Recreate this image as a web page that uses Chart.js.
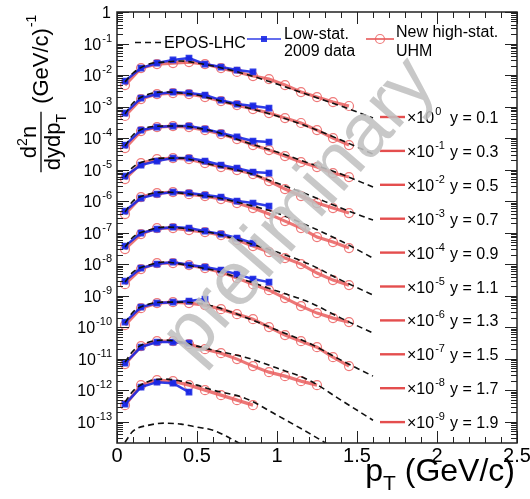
<!DOCTYPE html>
<html>
<head>
<meta charset="utf-8">
<title>Identified spectra vs EPOS-LHC</title>
<style>
  html, body { margin: 0; padding: 0; background: #fff; }
  canvas { display: block; }
</style>
<script src="https://cdn.jsdelivr.net/npm/chart.js@4.4.1/dist/chart.umd.min.js"></script>
</head>
<body>
<canvas id="spectra" width="530" height="499"></canvas>
<script>
// pT grids (GeV/c)
const ptEpos = [0.05, 0.1, 0.2, 0.3, 0.4, 0.5, 0.6, 0.8, 1.0, 1.2, 1.4, 1.6];
const ptHigh = [0.05, 0.15, 0.25, 0.35, 0.45, 0.55, 0.65, 0.75, 0.85, 0.95, 1.05, 1.15, 1.25, 1.35, 1.45];
const ptLow = [0.05, 0.15, 0.25, 0.35, 0.45, 0.55, 0.65, 0.75, 0.85, 0.95];

// rapidity bins and the factor each one is multiplied by
const rapidities = ['0.1', '0.3', '0.5', '0.7', '0.9', '1.1', '1.3', '1.5', '1.7', '1.9'];
const scaleExponents = [0, -1, -2, -3, -4, -5, -6, -7, -8, -9];

// EPOS-LHC, unscaled d2n/dydpT
const epos01 = [6.0e-3, 1.16e-2, 2.23e-2, 2.58e-2, 2.78e-2, 2.40e-2, 1.93e-2, 1.08e-2, 5.18e-3, 2.31e-3, 1.04e-3, 4.31e-4];
const epos03 = [5.78e-3, 1.29e-2, 2.49e-2, 2.88e-2, 2.68e-2, 2.31e-2, 1.73e-2, 9.6e-3, 5.0e-3, 2.23e-3, 8.64e-4, 3.1e-4];
const epos05 = [5.57e-3, 1.25e-2, 2.23e-2, 2.40e-2, 2.40e-2, 2.07e-2, 1.66e-2, 7.46e-3, 3.59e-3, 1.60e-3, 7.2e-4, 2.78e-4];
const epos07 = [5.78e-3, 1.20e-2, 2.00e-2, 2.31e-2, 2.31e-2, 1.86e-2, 1.39e-2, 8.33e-3, 3.72e-3, 1.55e-3, 5.99e-4, 2.49e-4];
const epos09 = [4.47e-3, 1.0e-2, 1.66e-2, 1.93e-2, 1.79e-2, 1.55e-2, 1.34e-2, 8.03e-3, 4.16e-3, 1.60e-3, 5.37e-4, 1.55e-4];
const epos11 = [3.46e-3, 7.2e-3, 1.2e-2, 1.49e-2, 1.39e-2, 1.11e-2, 9.64e-3, 5.0e-3, 2.40e-3, 1.0e-3, 3.1e-4, 1.04e-4];
const epos13 = [2.68e-3, 5.57e-3, 9.29e-3, 1.16e-2, 1.0e-2, 8.03e-3, 6.45e-3, 3.10e-3, 1.39e-3, 6.2e-4, 1.93e-4, 6.45e-5];
const epos15 = [1.34e-3, 3.0e-3, 5.37e-3, 6.2e-3, 6.2e-3, 5.78e-3, 4.64e-3, 2.07e-3, 8.03e-4, 3.10e-4, 8.96e-5, 2.78e-5];
const epos17 = [7.74e-4, 1.73e-3, 3.34e-3, 3.86e-3, 3.34e-3, 2.49e-3, 1.86e-3, 1.11e-3, 5.0e-4, 2.07e-4, 4.81e-5, 1.11e-5];
const epos19 = [4.16e-4, 9.29e-4, 1.93e-3, 2.23e-3, 1.93e-3, 1.44e-3, 1.0e-3, 5.57e-4, 1.60e-4, 4.31e-5, 1.08e-5, 2.9e-6];
// forward bin with no data, drawn at x1e-10
const epos21 = [2.23e-4, 5.0e-4, 7.74e-4, 8.96e-4, 8.33e-4, 6.7e-4, 5.37e-4, 1.66e-4, 5.2e-5];

// new high-statistics UHM data
const uhm01 = [4.81e-3, 1.66e-2, 2.23e-2, 2.40e-2, 2.58e-2, 2.23e-2, 1.66e-2, 1.25e-2, 9.29e-3, 7.46e-3, 4.81e-3, 2.88e-3, 2.00e-3, 1.39e-3, 1.04e-3];
const uhm03 = [5.0e-3, 1.73e-2, 2.49e-2, 2.68e-2, 2.49e-2, 2.00e-2, 1.49e-2, 1.11e-2, 8.33e-3, 6.2e-3, 4.31e-3, 3.0e-3, 1.79e-3, 1.0e-3, 5.99e-4];
const uhm05 = [4.81e-3, 1.66e-2, 2.23e-2, 2.40e-2, 2.23e-2, 1.79e-2, 1.34e-2, 9.29e-3, 5.99e-3, 4.16e-3, 2.68e-3, 1.73e-3, 1.20e-3, 7.74e-4, 5.78e-4];
const uhm07 = [5.0e-3, 1.60e-2, 2.15e-2, 2.31e-2, 2.15e-2, 1.60e-2, 1.20e-2, 9.64e-3, 7.2e-3, 4.31e-3, 2.40e-3, 1.44e-3, 8.64e-4, 5.99e-4, 4.16e-4];
const uhm09 = [3.86e-3, 1.34e-2, 1.79e-2, 1.93e-2, 1.66e-2, 1.44e-2, 1.16e-2, 8.64e-3, 5.99e-3, 3.86e-3, 2.31e-3, 1.39e-3, 7.2e-4, 5.0e-4, 3.22e-4];
const uhm11 = [3.0e-3, 8.96e-3, 1.39e-2, 1.39e-2, 1.20e-2, 1.04e-2, 8.33e-3, 5.78e-3, 3.72e-3, 2.40e-3, 1.55e-3, 1.0e-3, 5.18e-4, 3.10e-4, 2.15e-4];
const uhm13 = [2.31e-3, 6.94e-3, 1.08e-2, 1.08e-2, 9.29e-3, 7.46e-3, 5.57e-3, 3.59e-3, 2.31e-3, 1.49e-3, 8.33e-4, 4.64e-4, 2.78e-4, 1.93e-4, 1.44e-4];
const uhm15 = [1.16e-3, 4.0e-3, 5.78e-3, 6.2e-3, 5.78e-3, 5.0e-3, 3.72e-3, 2.58e-3, 1.79e-3, 1.0e-3, 5.57e-4, 3.59e-4, 2.31e-4, 1.11e-4, 5.78e-5];
const uhm17 = [6.7e-4, 2.49e-3, 3.59e-3, 3.59e-3, 2.88e-3, 2.00e-3, 1.49e-3, 9.64e-4, 5.78e-4, 3.72e-4, 2.78e-4, 1.93e-4, 1.44e-4];
const uhm19 = [3.34e-4, 1.44e-3, 2.07e-3, 1.93e-3, 1.44e-3, 1.0e-3, 6.94e-4, 4.81e-4, 3.34e-4];

// low-statistics 2009 data
const low01 = [6.45e-3, 1.66e-2, 2.40e-2, 3.0e-2, 3.46e-2, 2.23e-2, 1.79e-2, 1.44e-2, 1.25e-2];
const low03 = [6.2e-3, 1.86e-2, 2.49e-2, 2.88e-2, 2.68e-2, 2.31e-2, 1.60e-2, 1.20e-2, 1.04e-2, 8.96e-3];
const low05 = [5.99e-3, 1.79e-2, 2.23e-2, 2.40e-2, 2.40e-2, 1.93e-2, 1.44e-2, 1.08e-2, 8.03e-3, 7.46e-3];
const low07 = [6.2e-3, 1.39e-2, 1.86e-2, 2.31e-2, 2.31e-2, 1.86e-2, 1.39e-2, 1.11e-2, 8.33e-3, 7.74e-3];
const low09 = [4.81e-3, 1.25e-2, 1.66e-2, 1.93e-2, 1.79e-2, 1.55e-2, 1.34e-2, 1.0e-2, 8.64e-3, 6.94e-3];
const low11 = [3.72e-3, 9.64e-3, 1.29e-2, 1.49e-2, 1.39e-2, 1.11e-2, 8.96e-3, 6.7e-3, 4.64e-3];
const low13 = [2.88e-3, 7.46e-3, 1.0e-2, 1.16e-2, 9.29e-3, 8.03e-3, 6.45e-3, 4.81e-3, 3.34e-3, 2.68e-3];
const low15 = [1.44e-3, 4.31e-3, 5.78e-3, 6.2e-3, 6.7e-3, 7.74e-3];
const low17 = [7.2e-4, 2.31e-3, 3.34e-3, 3.34e-3, 3.10e-3];
const low19 = [3.59e-4, 1.25e-3, 1.79e-3, 1.66e-3, 8.64e-4];

// axis labels
const xTickLabels = ['0', '0.5', '1', '1.5', '2', '2.5'];
const yTickExponents = [0, -1, -2, -3, -4, -5, -6, -7, -8, -9, -10, -11, -12, -13];

const eposSets = [epos01, epos03, epos05, epos07, epos09, epos11, epos13, epos15, epos17, epos19];
const uhmSets = [uhm01, uhm03, uhm05, uhm07, uhm09, uhm11, uhm13, uhm15, uhm17, uhm19];
const lowSets = [low01, low03, low05, low07, low09, low11, low13, low15, low17, low19];

const FONT = '"Liberation Sans", Arial, Helvetica, sans-serif';
const RED = 'rgba(230, 72, 72, 0.75)';
const RED_MARK = 'rgba(236, 96, 96, 0.85)';
const RED_KEY = 'rgb(228, 78, 78)';
const BLUE = 'rgba(25, 40, 228, 0.9)';

const toPoints = (xs, ys, exp) => ys.map((v, i) => ({ x: xs[i], y: v * Math.pow(10, exp) }));

const datasets = [];
eposSets.forEach((ys, i) => {
    datasets.push({
        label: 'EPOS-LHC y=' + rapidities[i],
        data: toPoints(ptEpos, ys, scaleExponents[i]),
        borderColor: '#111',
        borderWidth: 1.6,
        borderDash: [6, 4],
        pointRadius: 0,
        cubicInterpolationMode: 'monotone',
        clip: 0,
        order: 1,
    });
    datasets.push({
        label: 'Low-stat. y=' + rapidities[i],
        data: toPoints(ptLow, lowSets[i], scaleExponents[i]),
        borderColor: BLUE,
        borderWidth: 2.5,
        pointStyle: 'rect',
        pointRadius: 3,
        pointBackgroundColor: BLUE,
        pointBorderColor: BLUE,
        tension: 0,
        clip: 0,
        order: 2,
    });
    datasets.push({
        label: 'UHM y=' + rapidities[i],
        data: toPoints(ptHigh, uhmSets[i], scaleExponents[i]),
        borderColor: RED,
        borderWidth: 3.2,
        pointStyle: 'circle',
        pointRadius: 4.5,
        pointBorderWidth: 1.2,
        pointBackgroundColor: 'rgba(0,0,0,0)',
        pointBorderColor: RED_MARK,
        tension: 0,
        clip: 0,
        order: 3,
    });
});
datasets.push({
    label: 'EPOS-LHC forward',
    data: toPoints(ptEpos, epos21, -10),
    borderColor: '#111',
    borderWidth: 1.6,
    borderDash: [6, 4],
    pointRadius: 0,
    cubicInterpolationMode: 'monotone',
    clip: 0,
    order: 1,
});

function drawSuper(ctx, base, sup, xRight, yBase, size, supSize) {
    // right-aligned "base^sup"
    ctx.font = supSize + 'px ' + FONT;
    const ws = ctx.measureText(sup).width;
    ctx.font = size + 'px ' + FONT;
    const wb = ctx.measureText(base).width;
    ctx.textAlign = 'left';
    ctx.fillText(base, xRight - ws - wb - 1, yBase);
    ctx.font = supSize + 'px ' + FONT;
    ctx.fillText(sup, xRight - ws, yBase - size * 0.5);
}

// ROOT-like frame, ticks, labels and legends
const frameAndText = {
    id: 'frameAndText',
    afterDatasetsDraw(chart) {
        const { ctx, chartArea: a, scales: { x, y } } = chart;
        ctx.save();
        ctx.strokeStyle = '#222';
        ctx.fillStyle = '#000';
        ctx.lineWidth = 1;

        const seg = (x1, y1, x2, y2) => {
            ctx.beginPath();
            ctx.moveTo(x1, y1);
            ctx.lineTo(x2, y2);
            ctx.stroke();
        };

        // x ticks every 0.1, major every 0.5
        for (let i = 0; i <= 25; i++) {
            const px = Math.round(x.getPixelForValue(i / 10)) + 0.5;
            const len = i % 5 === 0 ? 12 : 6;
            seg(px, a.bottom, px, a.bottom - len);
            seg(px, a.top, px, a.top + len);
        }
        // y ticks at 1..9 x 10^d
        for (let d = -14; d <= 0; d++) {
            for (let m = 1; m <= 9; m++) {
                const v = m * Math.pow(10, d);
                if (v < y.min || v > y.max) continue;
                const py = Math.round(y.getPixelForValue(v)) + 0.5;
                const len = m === 1 ? 12 : 6;
                seg(a.left, py, a.left + len, py);
                seg(a.right, py, a.right - len, py);
            }
        }
        ctx.lineWidth = 1.5;
        ctx.strokeRect(a.left, a.top, a.right - a.left, a.bottom - a.top);

        // y tick labels
        yTickExponents.forEach((e) => {
            const py = y.getPixelForValue(Math.pow(10, e));
            if (e === 0) {
                ctx.font = '16px ' + FONT;
                ctx.textAlign = 'right';
                ctx.fillText('1', a.left - 6, py + 6);
            } else {
                drawSuper(ctx, '10', String(e), a.left - 5, py + 6, 16, 11);
            }
        });

        // x tick labels
        ctx.font = '20px ' + FONT;
        ctx.textAlign = 'center';
        xTickLabels.forEach((t) => {
            ctx.fillText(t, x.getPixelForValue(parseFloat(t)), a.bottom + 19);
        });

        // x title: pT (GeV/c)
        const big = 32, sub = 21;
        ctx.font = big + 'px ' + FONT;
        const wUnit = ctx.measureText(' (GeV/c)').width;
        const wp = ctx.measureText('p').width;
        ctx.font = sub + 'px ' + FONT;
        const wT = ctx.measureText('T').width;
        const xEnd = a.right - 2;
        const xStart = xEnd - wUnit - wT - wp;
        const base = 481;
        ctx.textAlign = 'left';
        ctx.font = big + 'px ' + FONT;
        ctx.fillText('p', xStart, base);
        ctx.fillText(' (GeV/c)', xStart + wp + wT, base);
        ctx.font = sub + 'px ' + FONT;
        ctx.fillText('T', xStart + wp, base + 9);

        // y title: d2n / dydpT (GeV/c)^-1, rotated
        ctx.save();
        ctx.translate(41, 142);
        ctx.rotate(-Math.PI / 2);
        const f = 22, fs = 14;
        ctx.font = f + 'px ' + FONT;
        const wd = ctx.measureText('d').width;
        const wn = ctx.measureText('n').width;
        ctx.font = fs + 'px ' + FONT;
        const w2 = ctx.measureText('2').width;
        const numW = wd + w2 + wn;
        let u = -numW / 2;
        ctx.textAlign = 'left';
        ctx.font = f + 'px ' + FONT;
        ctx.fillText('d', u, -5);
        ctx.font = fs + 'px ' + FONT;
        ctx.fillText('2', u + wd, -14);
        ctx.font = f + 'px ' + FONT;
        ctx.fillText('n', u + wd + w2, -5);
        const wdydp = ctx.measureText('dydp').width;
        ctx.font = fs + 'px ' + FONT;
        const wTs = ctx.measureText('T').width;
        const denW = wdydp + wTs;
        u = -denW / 2;
        ctx.font = f + 'px ' + FONT;
        ctx.fillText('dydp', u, 19);
        ctx.font = fs + 'px ' + FONT;
        ctx.fillText('T', u + wdydp, 25);
        ctx.lineWidth = 1.3;
        ctx.strokeStyle = '#000';
        const barHalf = Math.max(numW, denW) / 2 + 2;
        seg(-barHalf, 0, barHalf, 0);
        ctx.font = f + 'px ' + FONT;
        ctx.fillText('(GeV/c)', barHalf + 8, 7);
        const wg = ctx.measureText('(GeV/c)').width;
        ctx.font = fs + 'px ' + FONT;
        ctx.fillText('-1', barHalf + 8 + wg + 1, -5);
        ctx.restore();

        // top legend
        ctx.lineWidth = 1.6;
        ctx.strokeStyle = '#111';
        ctx.setLineDash([6, 4]);
        seg(135, 42.5, 161, 42.5);
        ctx.setLineDash([]);
        ctx.font = '16px ' + FONT;
        ctx.textAlign = 'left';
        ctx.fillText('EPOS-LHC', 164, 48);

        ctx.strokeStyle = BLUE;
        ctx.lineWidth = 1.5;
        seg(247, 39, 281, 39);
        ctx.fillStyle = BLUE;
        ctx.fillRect(261, 36, 6, 6);
        ctx.fillStyle = '#000';
        ctx.fillText('Low-stat.', 284, 39);
        ctx.fillText('2009 data', 284, 56);

        ctx.strokeStyle = RED_KEY;
        seg(366, 39, 394, 39);
        ctx.strokeStyle = RED_MARK;
        ctx.lineWidth = 1.2;
        ctx.beginPath();
        ctx.arc(380, 39, 4.5, 0, Math.PI * 2);
        ctx.stroke();
        ctx.fillText('New high-stat.', 396, 37);
        ctx.fillText('UHM', 396, 56);

        // scale factor / rapidity key on the right
        rapidities.forEach((r, i) => {
            const row = 117 + i * 33.9;
            ctx.strokeStyle = RED_KEY;
            ctx.lineWidth = 2.4;
            seg(380, row, 405, row);
            ctx.fillStyle = '#000';
            ctx.font = '16px ' + FONT;
            ctx.textAlign = 'left';
            ctx.fillText('\u00d710', 407, row + 6);
            const w10 = ctx.measureText('\u00d710').width;
            ctx.font = '11px ' + FONT;
            ctx.fillText(String(scaleExponents[i]), 407 + w10 + 1, row - 2);
            ctx.font = '16px ' + FONT;
            ctx.fillText('y = ' + r, 450, row + 6);
        });
        ctx.restore();
    },
    afterDraw(chart) {
        // watermark
        const { ctx } = chart;
        ctx.save();
        ctx.translate(300, 210);
        ctx.rotate(-49 * Math.PI / 180);
        ctx.font = '76px ' + FONT;
        ctx.fillStyle = 'rgba(192, 192, 192, 0.88)';
        ctx.textAlign = 'center';
        ctx.textBaseline = 'middle';
        ctx.fillText('preliminary', 0, 0);
        ctx.restore();
    },
};

const ctx = document.getElementById('spectra').getContext('2d');
new Chart(ctx, {
    type: 'line',
    data: { datasets },
    options: {
        responsive: false,
        animation: false,
        devicePixelRatio: 1,
        layout: { padding: { left: 117, right: 13, top: 12, bottom: 56 } },
        plugins: { legend: { display: false }, tooltip: { enabled: false } },
        scales: {
            x: { type: 'linear', min: 0, max: 2.5, display: false },
            y: { type: 'logarithmic', min: 2.1e-14, max: 1, display: false },
        },
    },
    plugins: [frameAndText],
});
</script>
</body>
</html>
